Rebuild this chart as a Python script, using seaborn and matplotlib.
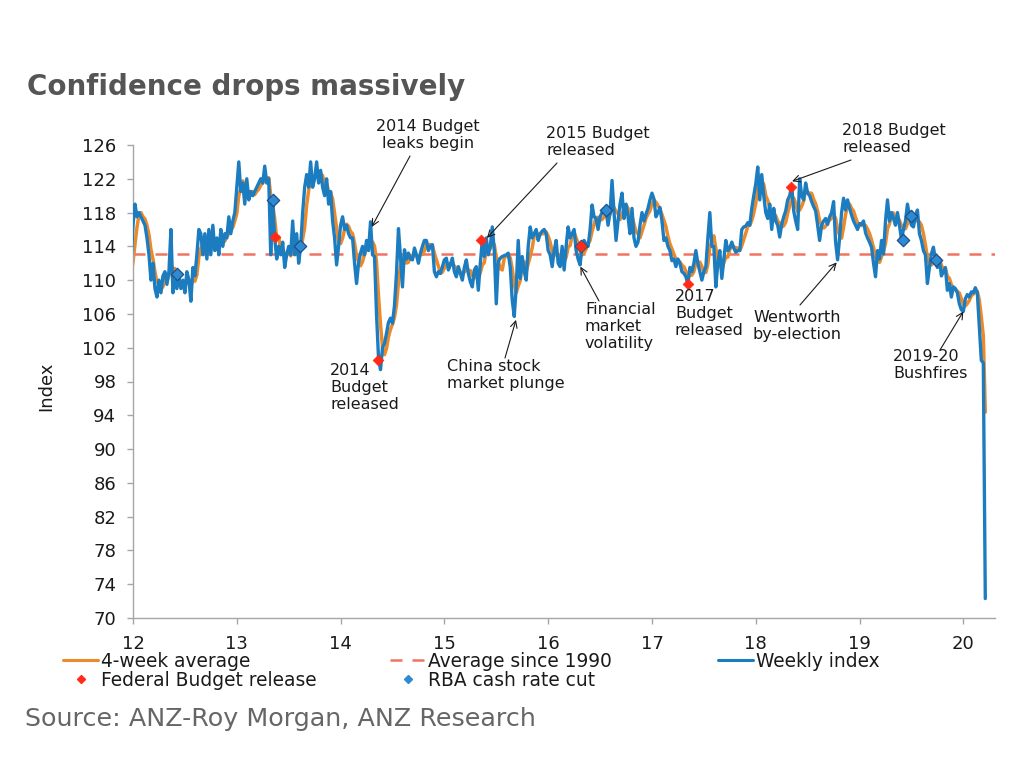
import numpy as np
import pandas as pd
import matplotlib
matplotlib.use("Agg")
import matplotlib.pyplot as plt
import seaborn as sns
from matplotlib.lines import Line2D

# ---------------- data ----------------
weekly_2011_end = [110.5, 109.5, 112.0]
weekly_2012 = [116.5, 119, 117.5, 118, 117.5, 117, 116.5, 115, 113, 110,
               112, 109, 108, 110, 108.5, 110.5, 111, 109.5, 111, 116,
               108.5, 110, 109, 110.5, 109, 110, 108.5, 111, 110, 107.5,
               111.5, 110.5, 113, 116, 115.5, 113, 115.5, 112.5, 116, 113,
               116.5, 113.5, 115, 113, 116, 114, 115.5, 115, 117.5, 115.5,
               117, 118]
weekly_2013 = [121, 124, 120.5, 121.5, 119, 122, 119.5, 120.5, 120, 120.5,
               121, 121.5, 122, 121.5, 123.5, 121.5, 122, 113, 119, 115,
               112.5, 114, 113, 114.5, 111.5, 113, 114, 113, 117, 113,
               115.5, 112, 114, 118, 121, 122.5, 121, 124, 121, 122,
               124, 121.5, 123, 121, 120, 122, 119, 120.5, 117, 115,
               111.8, 114]
weekly_2014 = [116.5, 117.5, 116, 116.5, 115.5, 115, 115, 112, 109.6, 112,
               113.2, 114, 113, 114.7, 113.5, 116.9, 113, 112.8, 106, 100.8,
               99.4, 102, 102.5, 103.7, 105, 105.5, 104.9, 107, 110.8, 116.1,
               112.8, 109.2, 113.6, 112.5, 113.2, 112.5, 112.4, 113.8, 113, 112,
               113.2, 114, 114.7, 114.7, 113.5, 114, 114.2, 111, 110.4, 111,
               110.8, 111.6]
weekly_2015 = [112.4, 112.6, 111.2, 111.8, 112.6, 111, 110.4, 111.6, 110.8, 110,
               111.5, 112.4, 110.8, 109.8, 109.2, 111.2, 111.6, 108.8, 112, 114.7,
               112.8, 115, 113, 114, 116.3, 113.5, 107.2, 112.2, 112.6, 112.8,
               112.9, 113, 113.2, 111.5, 107.6, 105.7, 109.2, 114.7, 110.2, 112.8,
               111, 110, 114, 116.3, 115, 115.5, 116, 114.7, 115.5, 115.8,
               116, 115.5]
weekly_2016 = [113.5, 113, 111.6, 113.5, 114.7, 112, 111.6, 114, 111.2, 114,
               116.3, 115, 115.5, 116, 113.5, 112.5, 111.8, 114.1, 114.7, 114.2,
               114, 116, 118.9, 117.5, 117.3, 116, 117.5, 118, 118.3, 118.3,
               116.5, 118, 121.8, 118, 114.7, 117, 119, 120.3, 117.3, 119,
               117.5, 115.5, 118.5, 115, 114, 114.5, 116.5, 118, 117, 117.8,
               118.5, 119.5]
weekly_2017 = [120.3, 119.6, 117.5, 118, 118.6, 117, 114.7, 115, 114, 113.5,
               112.3, 112.5, 111.6, 112.5, 112, 111, 110.8, 110.4, 109.5, 111.5,
               111, 112, 113.5, 112, 111, 110, 111, 111.6, 115, 118,
               114, 114, 109.2, 112, 113.5, 110.2, 112.5, 114.7, 113.5, 113.8,
               114.5, 113.8, 113.3, 113.5, 113.5, 116, 116.3, 116.4, 116.8, 116.5,
               118.5, 120]
weekly_2018 = [121.4, 123.4, 119.5, 122.5, 120, 118, 117.3, 119, 116, 118.5,
               117, 116.5, 115.1, 116.6, 117.5, 118.2, 119.5, 120, 121.2, 118.2,
               117, 116, 122, 120, 119.5, 121.5, 120.3, 120, 119.3, 118.7,
               118.2, 116.5, 114.7, 116.5, 117, 117.3, 116.6, 117.5, 118, 119.3,
               114.5, 112.4, 115, 118, 119.7, 118.3, 119.5, 118.5, 117.7, 117,
               116.5, 116]
weekly_2019 = [116.7, 116.6, 117, 115.6, 115, 114.5, 113.9, 112, 110.4, 113.5,
               112.5, 114.7, 113.1, 117, 119.5, 117, 118, 117.3, 116.5, 118,
               116.5, 114.8, 116, 117, 119, 117.6, 116.5, 116.3, 117.5, 118.3,
               115.5, 114.7, 113.5, 113, 109.6, 111.5, 113.1, 113.9, 112.4, 111.5,
               112.5, 110.5, 111, 111.5, 108.8, 109.6, 108, 109.2, 109, 108.5,
               107.2, 106.5]
weekly_2020 = [106.3, 107.8, 108.3, 108.0, 108.6, 108.5, 109.1, 108.5, 104.5, 100.5,
               100.2, 72.3]

avg_since_1990 = 113.1

budget_year = [13.37, 14.36, 15.35, 16.32, 17.35, 18.34]
budget_value = [115.1, 100.6, 114.8, 114.1, 109.6, 121.0]
rba_year = [12.42, 13.35, 13.61, 16.32, 16.56, 19.42, 19.50, 19.74]
rba_value = [110.7, 119.5, 114.0, 114.1, 118.3, 114.8, 117.6, 112.4]

y_ticks = list(range(70, 127, 4))
x_ticks = [12, 13, 14, 15, 16, 17, 18, 19, 20]
x_tick_labels = ["12", "13", "14", "15", "16", "17", "18", "19", "20"]

weekly = (weekly_2011_end + weekly_2012 + weekly_2013 + weekly_2014 + weekly_2015
          + weekly_2016 + weekly_2017 + weekly_2018 + weekly_2019 + weekly_2020)
n_pre = len(weekly_2011_end)
df = pd.DataFrame({"year": 12 + (np.arange(len(weekly)) - n_pre) / 52.0,
                   "weekly": weekly})
df["avg4"] = df["weekly"].rolling(4, min_periods=1).mean()

# ---------------- style ----------------
BLUE = "#1C7CC0"
ORANGE = "#EC8A2B"
SALMON = "#F07460"
RED = "#FF2B17"
TXT = "#1A1A1A"
GRID = "#A6A6A6"

sns.set_theme(style="ticks")
plt.rcParams["font.family"] = ["DejaVu Sans"]

W, H = 1024, 768
fig = plt.figure(figsize=(W / 100, H / 100), dpi=100)
ax = fig.add_axes([133 / W, 1 - 618 / H, (995 - 133) / W, (618 - 145) / H])

ax.axhline(avg_since_1990, color=SALMON, lw=1.8, dashes=(4.8, 4), zorder=1)
sns.lineplot(data=df, x="year", y="avg4", color=ORANGE, lw=2.5, ax=ax, zorder=2)
sns.lineplot(data=df, x="year", y="weekly", color=BLUE, lw=2.4, ax=ax, zorder=3)
sns.scatterplot(x=rba_year, y=rba_value, marker="D", s=40, color="#2E8AD2",
                edgecolor="#1D4F8A", linewidth=0.9, ax=ax, zorder=4)
sns.scatterplot(x=budget_year, y=budget_value, marker="D", s=30, color=RED,
                edgecolor=RED, linewidth=0.5, ax=ax, zorder=5)

ax.set_xlim(12, 20.305)
ax.set_ylim(70, 126)
ax.set_yticks(y_ticks)
ax.set_xticks(x_ticks)
ax.set_xticklabels(x_tick_labels)
ax.tick_params(axis="both", direction="out", length=4, width=1, color=GRID,
               labelsize=13, labelcolor=TXT, pad=8)
for side in ["top", "right"]:
    ax.spines[side].set_visible(False)
for side in ["left", "bottom"]:
    ax.spines[side].set_color(GRID)
    ax.spines[side].set_linewidth(1)
ax.set_xlabel("")
ax.set_ylabel("Index", fontsize=13, color=TXT)
ax.yaxis.set_label_coords((55 - 133) / 862, 0.49)

# ---------------- annotations ----------------
texts = [
    ("2014 Budget\nleaks begin", 428, 119, "center"),
    ("2015 Budget\nreleased", 546, 126, "left"),
    ("2018 Budget\nreleased", 842, 123, "left"),
    ("2014\nBudget\nreleased", 330, 363, "left"),
    ("China stock\nmarket plunge", 447, 359, "left"),
    ("Financial\nmarket\nvolatility", 585, 302, "left"),
    ("2017\nBudget\nreleased", 675, 289, "left"),
    ("Wentworth\nby-election", 753, 310, "left"),
    ("2019-20\nBushfires", 893, 349, "left"),
]
for s, px, py, ha in texts:
    fig.text(px / W, 1 - py / H, s, ha=ha, va="top", multialignment=ha,
             fontsize=11.5, color=TXT, linespacing=1.15)

arrows = [
    ((14.30, 116.3), (410, 156)),
    ((15.41, 115.0), (557, 163)),
    ((18.35, 121.7), (851, 160)),
    ((15.69, 105.3), (505, 358)),
    ((16.31, 111.6), (599, 301)),
    ((18.78, 112.1), (800, 305)),
    ((20.00, 106.3), (940, 350)),
]
for (xd, yd), (px, py) in arrows:
    ax.annotate("", xy=(xd, yd), xycoords="data", xytext=(px, H - py),
                textcoords="figure pixels",
                arrowprops=dict(arrowstyle="->", color=TXT, lw=0.8,
                                shrinkA=0, shrinkB=0), zorder=6)

# ---------------- legend ----------------
h_avg = Line2D([], [], color=ORANGE, lw=2.2, label="4-week average")
h_bud = Line2D([], [], ls="none", marker="D", ms=4, color=RED, label="Federal Budget release")
h_mean = Line2D([], [], color=SALMON, lw=1.8, dashes=(4.8, 4), label="Average since 1990")
h_rba = Line2D([], [], ls="none", marker="D", ms=4, color="#2E8AD2", label="RBA cash rate cut")
h_wk = Line2D([], [], color=BLUE, lw=2.2, label="Weekly index")

leg_kw = dict(loc="upper left", frameon=False, fontsize=13.4, handlelength=1.9,
              handletextpad=0.15, labelspacing=0.0, borderpad=0, borderaxespad=0,
              labelcolor=TXT)
fig.legend(handles=[h_avg, h_bud], bbox_to_anchor=(63 / W, 1 - 652 / H), **leg_kw)
fig.legend(handles=[h_mean, h_rba], bbox_to_anchor=(390 / W, 1 - 652 / H), **leg_kw)
fig.legend(handles=[h_wk], bbox_to_anchor=(718 / W, 1 - 652 / H), **leg_kw)

# ---------------- title & source ----------------
fig.text(27 / W, 1 - 95 / H, "Confidence drops massively", fontsize=20,
         fontweight="bold", color="#555555", ha="left", va="baseline")
fig.text(25 / W, 1 - 726 / H, "Source: ANZ-Roy Morgan, ANZ Research", fontsize=18.3,
         color="#666666", ha="left", va="baseline")

fig.savefig("out.png", dpi=100, facecolor="white")
